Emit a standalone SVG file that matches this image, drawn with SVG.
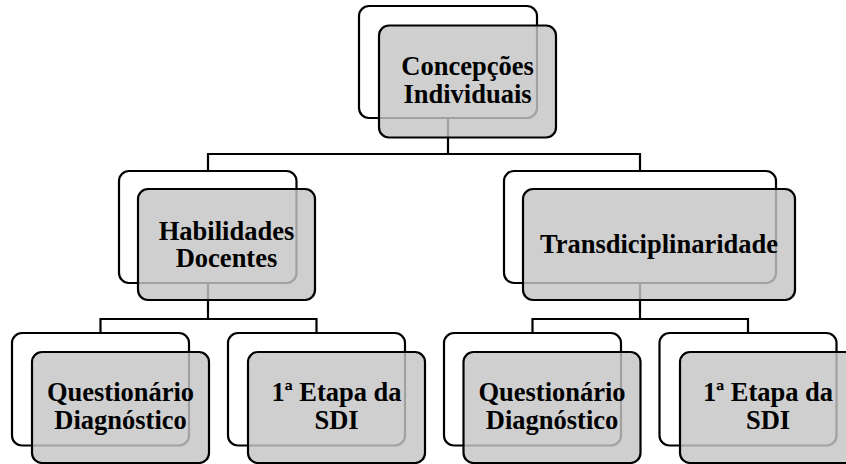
<svg xmlns="http://www.w3.org/2000/svg" width="846" height="464" viewBox="0 0 846 464">
<style>
.back{fill:#ffffff;stroke:#000;stroke-width:2.2}
.front{fill:#c4c4c4;fill-opacity:0.82;stroke:#000;stroke-width:2.2}
.con{fill:none;stroke:#000;stroke-width:2.2}
.t{font-family:"Liberation Serif","Times New Roman",serif;font-weight:bold;font-size:26.5px;fill:#000;text-anchor:middle}
</style>
<rect width="846" height="464" fill="#fff"/>
<g id="connectors">
<path class="con" d="M448,118 V154 M208,170 V154 H640 V170"/>
<path class="con" d="M208,283 V319 M100.5,333 V319 H316.5 V333"/>
<path class="con" d="M640,283 V319 M532.5,333 V319 H748 V333"/>
</g>
<g id="n-concepcoes">
<rect class="back" x="359" y="6" width="178" height="112" rx="10"/>
<rect class="front" x="379" y="25.5" width="177" height="112" rx="10"/>
<text class="t" x="467.5" y="75">Concepções</text>
<text class="t" x="467.5" y="102.5">Individuais</text>
</g>
<g id="n-habilidades">
<rect class="back" x="119" y="171" width="177.5" height="112" rx="10"/>
<rect class="front" x="138" y="189" width="177" height="111" rx="10"/>
<text class="t" x="226.5" y="239.5">Habilidades</text>
<text class="t" x="226.5" y="267">Docentes</text>
</g>
<g id="n-transdisciplinaridade">
<rect class="back" x="504" y="171" width="272" height="112" rx="10"/>
<rect class="front" x="523" y="189" width="272" height="111" rx="10"/>
<text class="t" x="659" y="253">Transdiciplinaridade</text>
</g>
<g id="n-questionario-1">
<rect class="back" x="12" y="333" width="177" height="112.5" rx="10"/>
<rect class="front" x="32" y="352" width="177" height="111" rx="10"/>
<text class="t" x="120.5" y="401">Questionário</text>
<text class="t" x="120.5" y="428.5">Diagnóstico</text>
</g>
<g id="n-etapa-1">
<rect class="back" x="228" y="333" width="177" height="112.5" rx="10"/>
<rect class="front" x="248" y="352" width="177" height="111" rx="10"/>
<text class="t" x="336.5" y="401">1ª Etapa da</text>
<text class="t" x="336.5" y="428.5">SDI</text>
</g>
<g id="n-questionario-2">
<rect class="back" x="444" y="333" width="177" height="112.5" rx="10"/>
<rect class="front" x="463.5" y="352" width="177" height="111" rx="10"/>
<text class="t" x="552" y="401">Questionário</text>
<text class="t" x="552" y="428.5">Diagnóstico</text>
</g>
<g id="n-etapa-2">
<rect class="back" x="659.5" y="333" width="177" height="112.5" rx="10"/>
<rect class="front" x="680" y="352" width="177" height="111" rx="10"/>
<text class="t" x="768" y="401">1ª Etapa da</text>
<text class="t" x="768" y="428.5">SDI</text>
</g>
</svg>
